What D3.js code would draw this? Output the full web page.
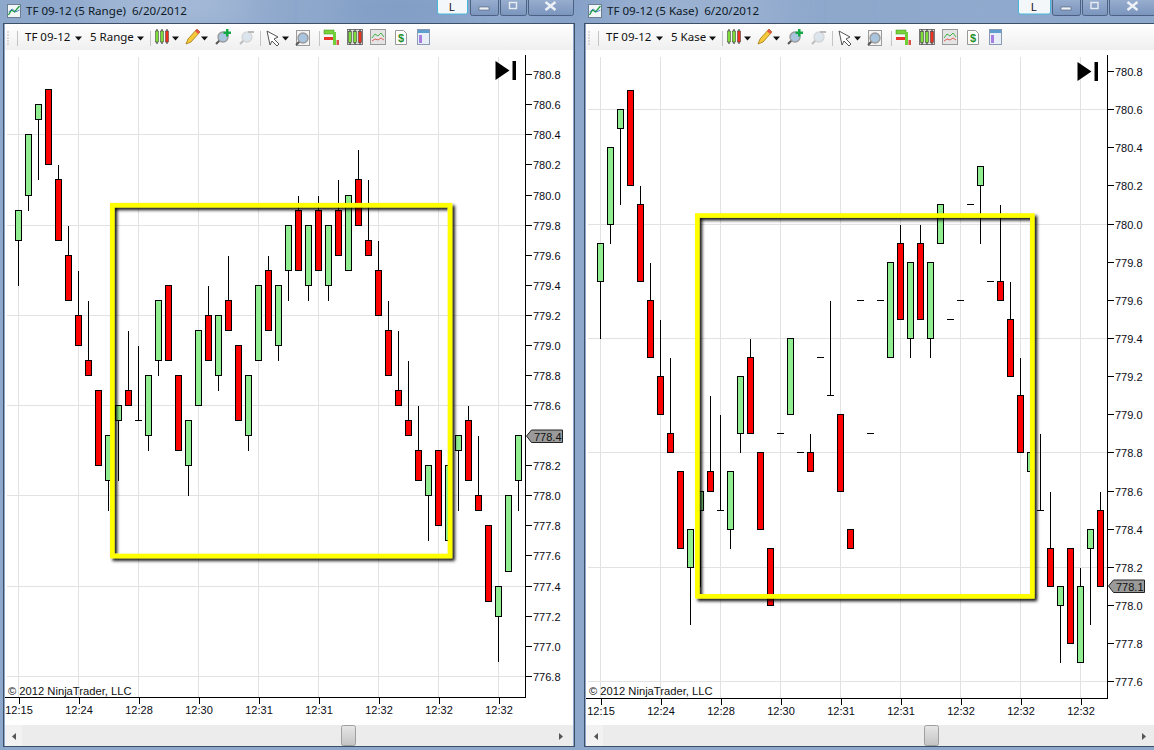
<!DOCTYPE html>
<html><head><meta charset="utf-8">
<script src="https://d3js.org/d3.v7.min.js"></script>
<style>
html,body{margin:0;padding:0;background:#8ea8cc;overflow:hidden}
svg{display:block}
text{font-family:"Liberation Sans",Arial,sans-serif}
.ui{font-family:"Noto Sans","Open Sans",sans-serif;white-space:pre}
.axis path,.axis line{stroke:#000;shape-rendering:crispEdges}
.axis text{font-family:"Liberation Sans",Arial,sans-serif;font-size:11px;fill:#0a0a14}
</style></head><body><div id="c"></div>
<script>
const timeLabels=["12:15","12:24","12:28","12:30","12:31","12:31","12:32","12:32","12:32"];
const rangeTicks=[780.8,780.6,780.4,780.2,780.0,779.8,779.6,779.4,779.2,779.0,778.8,778.6,778.2,778.0,777.8,777.6,777.4,777.2,777.0,776.8];
const kaseTicks=[780.8,780.6,780.4,780.2,780.0,779.8,779.6,779.4,779.2,779.0,778.8,778.6,778.4,778.2,778.0,777.8,777.6];
const rangeGrid=[780.4,779.8,779.2,778.6,778.0,777.4,776.8];
const kaseGrid=[780.6,780.0,779.4,778.8,778.2,777.6];

const rangeOpen=[779.7,780.0,780.5,780.7,780.1,779.6,779.2,778.9,778.7,778.1,778.5,778.7,778.5,778.4,778.9,779.4,778.8,778.2,778.6,779.2,778.8,779.3,779.0,778.4,778.9,779.5,779.0,779.5,779.9,779.4,779.9,779.4,779.9,779.5,780.1,779.7,779.5,779.1,778.7,778.5,778.3,778.0,778.3,777.7,778.3,778.5,778.0,777.8,777.2,777.5,778.1];
const rangeClose=[779.9,780.4,780.6,780.2,779.7,779.3,779.0,778.8,778.2,778.4,778.6,778.6,778.5,778.8,779.3,778.9,778.3,778.5,779.1,778.9,779.2,779.1,778.5,778.8,779.4,779.1,779.4,779.8,779.5,779.8,779.5,779.8,779.6,780.0,779.8,779.6,779.2,778.8,778.6,778.4,778.1,778.2,777.8,778.2,778.4,778.1,777.9,777.3,777.4,778.0,778.4];
const rangeHigh=[779.9,780.4,780.6,780.7,780.2,779.8,779.5,779.3,778.7,778.4,778.6,779.1,779.0,778.8,779.3,779.4,778.8,778.5,779.1,779.4,779.2,779.6,779.0,778.8,779.4,779.6,779.4,779.8,780.0,779.8,780.0,779.8,780.1,780.0,780.3,780.1,779.7,779.3,779.1,778.9,778.6,778.2,778.3,778.2,778.4,778.6,778.4,777.8,777.4,778.0,778.4];
const rangeLow=[779.4,779.9,780.1,780.2,779.7,779.3,779.0,778.8,778.2,777.9,778.1,778.6,778.5,778.3,778.8,778.9,778.3,778.0,778.6,778.9,778.7,779.1,778.5,778.3,778.9,779.1,778.9,779.3,779.5,779.3,779.5,779.3,779.6,779.5,779.8,779.6,779.2,778.8,778.6,778.4,778.1,777.7,777.8,777.7,777.9,778.1,777.9,777.3,776.9,777.5,777.9];

const kaseOpen=[779.7,780.0,780.5,780.7,780.1,779.6,779.2,778.9,778.7,778.2,778.5,778.7,778.5,778.4,778.9,779.3,778.8,778.3,778.9,779.0,778.8,778.8,779.3,779.1,779.0,778.4,779.6,778.9,779.6,779.3,779.9,779.4,779.9,779.4,779.9,779.5,779.6,780.1,780.2,779.7,779.7,779.5,779.1,778.7,778.5,778.3,778.0,778.3,777.7,778.3,778.5];
const kaseClose=[779.9,780.4,780.6,780.2,779.7,779.3,779.0,778.8,778.3,778.4,778.6,778.6,778.5,778.7,779.2,778.9,778.4,778.0,778.9,779.4,778.8,778.7,779.3,779.1,778.6,778.3,779.6,778.9,779.6,779.8,779.5,779.8,779.5,779.8,780.1,779.5,779.6,780.1,780.3,779.7,779.6,779.2,778.8,778.8,778.5,778.1,778.1,777.8,778.1,778.4,778.1];
const kaseHigh=[779.9,780.4,780.6,780.7,780.2,779.8,779.5,779.3,778.7,778.4,778.6,779.1,779.0,778.7,779.2,779.4,778.8,778.3,778.9,779.4,778.8,778.9,779.3,779.6,779.0,778.4,779.6,778.9,779.6,779.8,780.0,779.8,780.0,779.8,780.1,779.5,779.6,780.1,780.3,779.7,780.1,779.7,779.3,778.8,778.9,778.6,778.1,778.3,778.2,778.4,778.6];
const kaseLow=[779.4,779.9,780.1,780.2,779.7,779.3,779.0,778.8,778.3,777.9,778.1,778.6,778.5,778.3,778.8,778.9,778.4,778.0,778.9,779.0,778.8,778.7,779.3,779.1,778.6,778.3,779.6,778.9,779.6,779.3,779.5,779.3,779.5,779.3,779.9,779.5,779.6,780.1,779.9,779.7,779.6,779.2,778.8,778.7,778.5,778.1,777.7,777.8,777.7,777.9,778.1];

const W=1154,H=750;
const svg=d3.select("#c").append("svg").attr("width",W).attr("height",H);
const defs=svg.append("defs");
const f=defs.append("filter").attr("id","blur").attr("x","-50%").attr("y","-200%").attr("width","200%").attr("height","500%");
f.append("feGaussianBlur").attr("stdDeviation",18);
const sh=defs.append("filter").attr("id","shadow").attr("x","-5%").attr("y","-5%").attr("width","110%").attr("height","110%");
sh.append("feDropShadow").attr("dx",2.5).attr("dy",2.5).attr("stdDeviation",1.7).attr("flood-color","#000").attr("flood-opacity",0.95);
const tb=defs.append("linearGradient").attr("id","tbg").attr("x1",0).attr("x2",0).attr("y1",0).attr("y2",1);
tb.append("stop").attr("offset",0).attr("stop-color","#ffffff");
tb.append("stop").attr("offset",1).attr("stop-color","#efefef");
const th=defs.append("linearGradient").attr("id","thumb").attr("x1",0).attr("x2",0).attr("y1",0).attr("y2",1);
th.append("stop").attr("offset",0).attr("stop-color","#e6e6e6");
th.append("stop").attr("offset",1).attr("stop-color","#c4c4c4");
const bt=defs.append("linearGradient").attr("id","wbtn").attr("x1",0).attr("x2",0).attr("y1",0).attr("y2",1);
bt.append("stop").attr("offset",0).attr("stop-color","#9db2d2");
bt.append("stop").attr("offset",1).attr("stop-color","#7a94bc");

// desktop glass
svg.append("rect").attr("width",W).attr("height",H).attr("fill","#8ea8cc");
[[170,6,90,14,"#b4c5de"],[400,10,70,16,"#7d99c3"],[700,10,90,14,"#a4b8d6"],[560,6,40,16,"#7f9ac3"],[980,10,70,16,"#90a9cd"]].forEach(d=>
  svg.append("ellipse").attr("cx",d[0]).attr("cy",d[1]).attr("rx",d[2]).attr("ry",d[3]).attr("fill",d[4]).attr("filter","url(#blur)"));

function triDown(g,x,y){g.append("path").attr("d",`M${x-3},${y-1.5}h7l-3.5,4z`).attr("fill","#111");}

function miniCandles(g,x,y){
  [[x+2,"#7ddc3a"],[x+7,"#7ddc3a"],[x+12,"#f0301c"]].forEach(d=>{
    g.append("line").attr("x1",d[0]).attr("x2",d[0]).attr("y1",y).attr("y2",y+15).attr("stroke","#222");
    g.append("rect").attr("x",d[0]-1.5).attr("y",y+2).attr("width",3).attr("height",11).attr("fill",d[1]).attr("stroke","#333").attr("stroke-width",.5);
  });
}
function magnifier(g,x,y,op){
  const s=g.append("g").attr("opacity",op);
  s.append("line").attr("x1",x+2).attr("y1",y+15).attr("x2",x+6).attr("y2",y+11).attr("stroke","#555").attr("stroke-width",2);
  s.append("circle").attr("cx",x+9).attr("cy",y+8).attr("r",5).attr("fill","#a9c4de").attr("stroke","#9a9a9a").attr("stroke-width",1.4);
}
function toolbarIcons(g){
  g.append("line").attr("x1",150.5).attr("x2",150.5).attr("y1",31).attr("y2",46).attr("stroke","#c4c4c4");
  miniCandles(g,155,29); triDown(g,175,38);
  g.append("path").attr("d","M186,44l2,-5l9,-10l3,3l-9,10z").attr("fill","#f5c93a").attr("stroke","#a07a10").attr("stroke-width",.8);
  g.append("path").attr("d","M195,31l2,-2l3,3l-2,2z").attr("fill","#e2564a");
  triDown(g,204,38);
  magnifier(g,214,29,1);
  g.append("path").attr("d","M226,29h2.5v2.5h2.5v2.5h-2.5v2.5h-2.5v-2.5h-2.5v-2.5h2.5z").attr("fill","#13a845");
  magnifier(g,238,29,.35);
  g.append("rect").attr("x",248).attr("y",31).attr("width",6).attr("height",2).attr("fill","#bbb");
  g.append("line").attr("x1",260.5).attr("x2",260.5).attr("y1",31).attr("y2",46).attr("stroke","#c4c4c4");
  g.append("path").attr("d","M267,31l11,6l-4,2l5,5l-2,2l-5,-5l-2,4z").attr("fill","#fff").attr("stroke","#555");
  triDown(g,285,38);
  g.append("rect").attr("x",296.5).attr("y",30.5).attr("width",13).attr("height",15).attr("fill","#f4f4f4").attr("stroke","#9a9a9a");
  magnifier(g,294,30,1);
  g.append("line").attr("x1",319.5).attr("x2",319.5).attr("y1",31).attr("y2",46).attr("stroke","#c4c4c4");
  g.append("rect").attr("x",324).attr("y",30).attr("width",10).attr("height",4).attr("fill","#79d33a").attr("stroke","#3d8a1f").attr("stroke-width",.5);
  g.append("rect").attr("x",324).attr("y",37).attr("width",10).attr("height",3).attr("fill","#e8342a");
  g.append("rect").attr("x",333).attr("y",32).attr("width",3).attr("height",13).attr("fill","#6fd03a");
  g.append("rect").attr("x",336.5).attr("y",40).attr("width",2.5).attr("height",5).attr("fill","#d9534a");
  g.append("rect").attr("x",347.5).attr("y",29.5).attr("width",15).attr("height",15).attr("fill","#ddd").attr("stroke","#777");
  miniCandles(g,348,29.5);
  g.append("rect").attr("x",370.5).attr("y",29.5).attr("width",15).attr("height",15).attr("fill","#e4e4e4").attr("stroke","#999");
  g.append("path").attr("d","M372,38l3,-4l3,2l3,-3l3,4").attr("fill","none").attr("stroke","#45b24a");
  g.append("path").attr("d","M372,41l3,-2l3,1l3,-2l3,2").attr("fill","none").attr("stroke","#e0605a");
  g.append("path").attr("d","M395.5,30.5h8l3,3v11h-11z").attr("fill","#fff").attr("stroke","#999");
  g.append("text").attr("x",401).attr("y",42).attr("text-anchor","middle").attr("font-size",11).attr("font-weight","bold").attr("fill","#1f8f2a").text("$");
  g.append("rect").attr("x",417.5).attr("y",29.5).attr("width",12).attr("height",15).attr("fill","#e8eef7").attr("stroke","#8a9ab5");
  g.append("rect").attr("x",418).attr("y",30).attr("width",11).attr("height",3).attr("fill","#5f9fd0");
  g.append("rect").attr("x",419).attr("y",35).attr("width",3).attr("height",8).attr("fill","#a77fe0");
}

function drawPanel(c){
  const g=svg.append("g");
  const ic=g.append("g");
  ic.append("rect").attr("x",c.iconX).attr("y",4.5).attr("width",13).attr("height",13).attr("fill","#f3f6f8").attr("stroke","#6c7f92");
  ic.append("path").attr("d",`M${c.iconX+1},${15}l3,-5l3,2l5,-6`).attr("fill","none").attr("stroke","#1d9c3b").attr("stroke-width",1.3);
  ic.append("path").attr("d",`M${c.iconX+1},${12}l4,-3l3,3l4,-2`).attr("fill","none").attr("stroke","#2e6fc2").attr("stroke-width",.8);
  g.append("text").attr("class","ui").attr("x",c.titleX).attr("y",15).attr("font-size",11.6).attr("fill","#0d1a26").text(c.title);
  // caption buttons
  g.append("rect").attr("x",c.lBtn[0]+.5).attr("y",-2).attr("width",c.lBtn[1]-c.lBtn[0]).attr("height",16).attr("rx",2).attr("fill","#f4f7fa").attr("stroke","#47b7d9");
  g.append("text").attr("x",(c.lBtn[0]+c.lBtn[1])/2).attr("y",10.5).attr("text-anchor","middle").attr("font-size",10.5).attr("fill","#111").text("L");
  c.caps.forEach((b,i)=>{
    g.append("rect").attr("x",b[0]+.5).attr("y",-3).attr("width",b[1]-b[0]).attr("height",18.5).attr("rx",2).attr("fill","url(#wbtn)").attr("stroke","#3d5270").attr("stroke-width",.8);
    const mx=(b[0]+b[1])/2;
    if(i===0)g.append("rect").attr("x",mx-5).attr("y",7).attr("width",10).attr("height",3).attr("fill","#eef2f7").attr("stroke","#47586f").attr("stroke-width",.6);
    if(i===1)g.append("rect").attr("x",mx-3.5).attr("y",2.5).attr("width",7).attr("height",6).attr("fill","none").attr("stroke","#e8edf4").attr("stroke-width",1.4);
    if(i===2)g.append("path").attr("d",`M${mx-5},${2}l10,8M${mx+5},${2}l-10,8`).attr("stroke","#eef2f7").attr("stroke-width",2.4);
  });
  // frame + client area
  g.append("rect").attr("x",c.left-1.5).attr("y",23.5).attr("width",c.right-c.left+3).attr("height",723).attr("fill","none").attr("stroke","#3e5068");
  g.append("rect").attr("x",c.left).attr("y",24).attr("width",c.right-c.left).attr("height",26).attr("fill","url(#tbg)");
  g.append("rect").attr("x",c.left).attr("y",50).attr("width",c.right-c.left).attr("height",675).attr("fill","#fff");
  g.append("rect").attr("x",c.left).attr("y",725).attr("width",c.right-c.left).attr("height",21).attr("fill","#ececec");
  g.append("rect").attr("x",c.left).attr("y",725).attr("width",17).attr("height",21).attr("fill","#f2f2f2");
  g.append("path").attr("d",`M${c.arrowL+2},${733}v7l-4,-3.5z`).attr("fill","#555");
  g.append("path").attr("d",`M${c.arrowR-2},${733}v7l4,-3.5z`).attr("fill","#555");
  g.append("rect").attr("x",c.thumb+.5).attr("y",725.5).attr("width",14).attr("height",20).attr("rx",2).attr("fill","url(#thumb)").attr("stroke","#9f9f9f");

  // toolbar
  g.append("path").attr("d",`M${c.left+3},31v14`).attr("stroke","#bbb").attr("stroke-dasharray","2 1");
  g.append("line").attr("x1",c.tool[0]-7.5).attr("x2",c.tool[0]-7.5).attr("y1",31).attr("y2",46).attr("stroke","#c4c4c4");
  g.append("text").attr("class","ui").attr("x",c.tool[0]).attr("y",41).attr("font-size",11.5).attr("fill","#111").text("TF 09-12");
  triDown(g,c.tool[1],38);
  g.append("text").attr("class","ui").attr("x",c.tool[2]).attr("y",41).attr("font-size",11.5).attr("fill","#111").text(c.bars);
  triDown(g,c.tool[3],38);
  toolbarIcons(g.append("g").attr("transform",`translate(${c.iconShift},0)`));

  // scales
  const x=d3.scaleLinear().domain([0,50]).range([c.x0,c.x0+500]);
  const y=d3.scaleLinear().domain(c.yDomain).range(c.yRange);
  const py=v=>Math.floor(y(v))+.5;

  // grid
  const grid=g.append("g").attr("stroke","#e2e2e2").style("shape-rendering","crispEdges");
  const gridIdx=timeLabels.map((_,i)=>i*6);
  grid.selectAll(".v").data(gridIdx).join("line").attr("class","v").attr("x1",d=>x(d)).attr("x2",d=>x(d)).attr("y1",c.plotTop).attr("y2",c.plotBottom);
  grid.selectAll(".h").data(c.grid).join("line").attr("class","h").attr("x1",c.left+2).attr("x2",c.axisX).attr("y1",py).attr("y2",py);

  // axes
  const ax=g.append("g").attr("class","axis").attr("transform",`translate(${c.axisX},0)`)
    .call(d3.axisRight(y).tickValues(c.ticks).tickSize(6).tickPadding(1.5).tickFormat(d3.format(".1f")));
  ax.select(".domain").attr("d",`M0,${c.plotTop-2}V${c.plotBottom}`);
  ax.selectAll(".tick").attr("transform",d=>`translate(0,${py(d)})`);
  ax.selectAll(".tick text").attr("y",1);
  const bx=g.append("g").attr("class","axis").attr("transform",`translate(0,${c.plotBottom+.5})`)
    .call(d3.axisBottom(x).tickValues(gridIdx).tickSize(6).tickPadding(3).tickFormat((d,i)=>timeLabels[i]));
  bx.select(".domain").attr("d",`M${c.left},0H${c.axisX}`);

  g.append("text").attr("x",c.left+3).attr("y",695).attr("font-size",11.2).attr("fill","#111").text("© 2012 NinjaTrader, LLC");

  // candles
  const idx=d3.range(c.open.length);
  const cg=g.append("g").style("shape-rendering","crispEdges");
  cg.selectAll(".w").data(idx).join("line").attr("class","w")
    .attr("x1",i=>x(i)).attr("x2",i=>x(i)).attr("y1",i=>py(c.high[i])).attr("y2",i=>py(c.low[i])).attr("stroke","#000");
  cg.selectAll(".b").data(idx.filter(i=>c.open[i]!==c.close[i])).join("rect").attr("class","b")
    .attr("x",i=>x(i)-3).attr("width",6)
    .attr("y",i=>py(Math.max(c.open[i],c.close[i])))
    .attr("height",i=>py(Math.min(c.open[i],c.close[i]))-py(Math.max(c.open[i],c.close[i])))
    .attr("fill",i=>c.close[i]>c.open[i]?"#90ee90":"#ff0000").attr("stroke","#000");
  cg.selectAll(".d").data(idx.filter(i=>c.open[i]===c.close[i])).join("line").attr("class","d")
    .attr("x1",i=>x(i)-3.5).attr("x2",i=>x(i)+3.5).attr("y1",i=>py(c.open[i])).attr("y2",i=>py(c.open[i])).attr("stroke","#000");

  // skip-to-end glyph
  g.append("path").attr("d",`M${c.skip},${c.skipY}l14,9.5l-14,9.5z`).attr("fill","#000");
  g.append("rect").attr("x",c.skip+17).attr("y",c.skipY).attr("width",3.5).attr("height",19).attr("fill","#000");

  // last-price marker
  const ly=Math.round(y(c.last));
  g.append("path").attr("d",`M${c.axisX+1},${ly}l5,-6h${c.tagW}v12.5h-${c.tagW}z`).attr("fill","#9a9a9a").attr("stroke","#222");
  g.append("text").attr("x",c.axisX+8.5).attr("y",ly+4.5).attr("font-size",11).attr("fill","#111").text(c.last.toFixed(1));

  // yellow highlight
  g.append("rect").attr("x",c.box[0]).attr("y",c.box[1]).attr("width",c.box[2]-c.box[0]).attr("height",c.box[3]-c.box[1])
    .attr("fill","none").attr("stroke","#ffff00").attr("stroke-width",4.6).attr("filter","url(#shadow)");
}

drawPanel({left:5,right:573,iconX:7.5,titleX:26,title:"TF 09-12 (5 Range)  6/20/2012",bars:"5 Range",
  lBtn:[437,467],caps:[[470,498],[500,526],[528,573]],tool:[25,78,90,140],iconShift:0,
  x0:18.5,axisX:525.5,plotTop:57,plotBottom:697,yDomain:[776.8,780.8],yRange:[676.3,74.7],
  ticks:rangeTicks,grid:rangeGrid,open:rangeOpen,close:rangeClose,high:rangeHigh,low:rangeLow,last:778.4,tagW:31,
  skip:495.5,skipY:61,box:[112.3,205.2,450,556],thumb:341,arrowL:14,arrowR:561});
drawPanel({left:586,right:1154,iconX:588.5,titleX:607,title:"TF 09-12 (5 Kase)  6/20/2012",bars:"5 Kase",
  lBtn:[1018,1050],caps:[[1052,1080],[1082,1107],[1109,1156]],tool:[606,659,671,712],iconShift:572,
  x0:600.5,axisX:1107.5,plotTop:57,plotBottom:698,yDomain:[777.6,780.8],yRange:[681.7,71.5],
  ticks:kaseTicks,grid:kaseGrid,open:kaseOpen,close:kaseClose,high:kaseHigh,low:kaseLow,last:778.1,tagW:31,
  skip:1077.5,skipY:62,box:[697.3,215.5,1032.3,596.3],thumb:924,arrowL:596,arrowR:1144});
</script></body></html>
